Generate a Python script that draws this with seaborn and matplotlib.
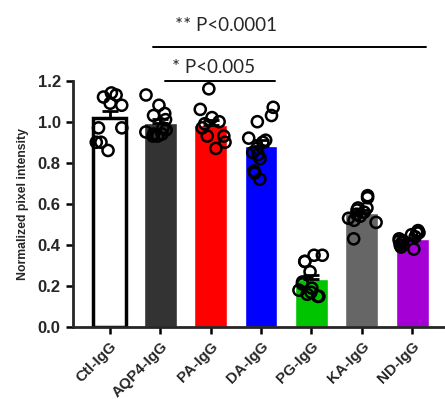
import numpy as np
import pandas as pd
import matplotlib
matplotlib.use("Agg")
from matplotlib import pyplot as plt
import seaborn as sns

groups = ["Ctl-IgG", "AQP4-IgG", "PA-IgG", "DA-IgG", "PG-IgG", "KA-IgG", "ND-IgG"]
colors = ["#ffffff", "#333333", "#ff0000", "#0000ff", "#00c400", "#666666", "#a400d6"]

ctl = [1.14, 1.13, 1.12, 1.09, 1.08, 0.97, 0.97, 0.90, 0.90, 0.86]
aqp4 = [1.13, 1.08, 1.04, 1.03, 1.01, 0.97, 0.95, 0.94, 0.93, 0.93, 0.94, 0.96]
pa = [1.16, 1.06, 1.02, 1.00, 0.99, 0.97, 0.93, 0.93, 0.90, 0.87]
da = [1.07, 1.03, 1.00, 0.92, 0.91, 0.90, 0.87, 0.85, 0.84, 0.82, 0.76, 0.75, 0.72]
pg = [0.35, 0.35, 0.32, 0.32, 0.27, 0.22, 0.21, 0.19, 0.18, 0.17, 0.16, 0.15, 0.15]
ka = [0.64, 0.63, 0.58, 0.58, 0.57, 0.56, 0.55, 0.54, 0.53, 0.52, 0.51, 0.43]
nd = [0.47, 0.46, 0.46, 0.45, 0.44, 0.43, 0.42, 0.42, 0.41, 0.40, 0.39, 0.38]

values = [ctl, aqp4, pa, da, pg, ka, nd]
df = pd.DataFrame({
    "group": [g for g, v in zip(groups, values) for _ in v],
    "value": [x for v in values for x in v],
})

sns.set_style("ticks")
plt.rcParams["font.family"] = ["Liberation Sans", "DejaVu Sans"]

fig = plt.figure(figsize=(4.45, 3.99), dpi=100)
ax = fig.add_axes([0.163, 0.18, 0.837, 0.618])

sns.barplot(data=df, x="group", y="value", hue="group", palette=colors, order=groups,
            errorbar=None, width=0.65, saturation=1, legend=False, ax=ax)
# Ctl bar is open with a black border
ax.patches[0].set_edgecolor("black")
ax.patches[0].set_linewidth(2.5)

# upper-only SEM error bars
stats = df.groupby("group", sort=False)["value"].agg(["mean", "sem"]).reindex(groups)
ax.errorbar(range(len(groups)), stats["mean"], yerr=[np.zeros(len(groups)), stats["sem"]],
            fmt="none", ecolor="black", elinewidth=2, capsize=6, capthick=2, zorder=3)

np.random.seed(3)
sns.stripplot(data=df, x="group", y="value", order=groups, jitter=0.3,
              size=8, color="black", linewidth=1.8, edgecolor="black", ax=ax, zorder=4)
for coll in ax.collections:
    coll.set_facecolor("none")
    coll.set_edgecolor("black")

ax.set_ylim(0, 1.2)
ax.set_xlim(-0.74, 6.65)
ax.set_yticks([0, 0.2, 0.4, 0.6, 0.8, 1.0, 1.2])
ax.set_yticklabels(["0.0", "0.2", "0.4", "0.6", "0.8", "1.0", "1.2"], fontsize=12, fontweight="bold")
ax.set_xticks(range(len(groups)))
ax.set_xticklabels(groups, rotation=45, ha="right", rotation_mode="anchor",
                   fontsize=11, fontweight="bold")
ax.set_xlabel("")
ax.set_ylabel("Normalized pixel intensity", fontsize=8.8, fontweight="bold", labelpad=6)
for s in ["top", "right"]:
    ax.spines[s].set_visible(False)
for s in ["left", "bottom"]:
    ax.spines[s].set_linewidth(2)
ax.tick_params(width=1.8, length=5, color="black")

# significance bars
ax.plot([0.85, 6.28], [1.364, 1.364], color="black", lw=1.4, clip_on=False)
ax.plot([1.09, 3.27], [1.196, 1.196], color="black", lw=1.4, clip_on=False)
ax.text(2.30, 1.466, "** P<0.0001", ha="center", va="center", fontsize=13.5,
        family=["Lato", "DejaVu Sans"])
ax.text(2.06, 1.263, "* P<0.005", ha="center", va="center", fontsize=13.5,
        family=["Lato", "DejaVu Sans"])

fig.savefig("out.png", dpi=100)
